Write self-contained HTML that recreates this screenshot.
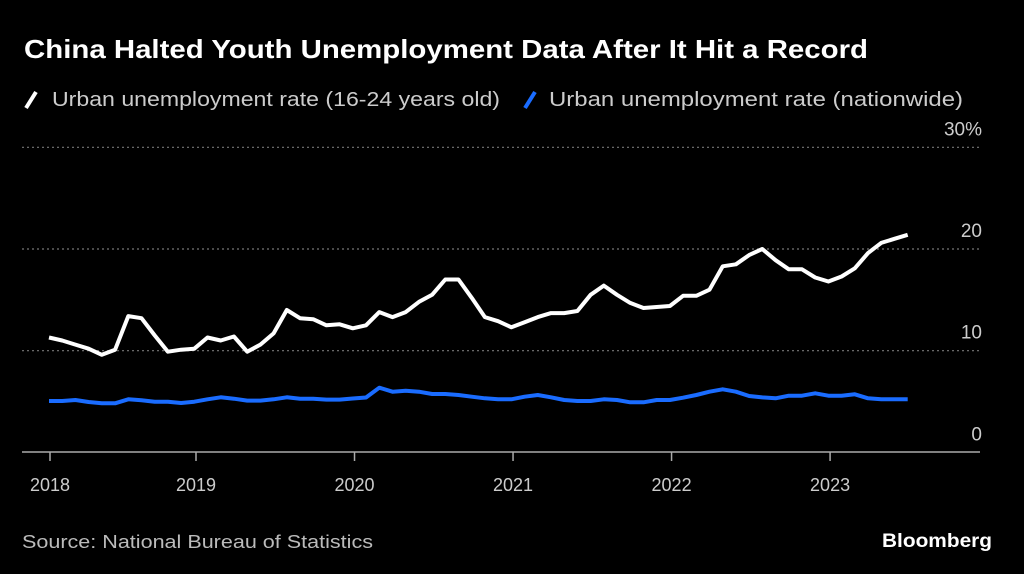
<!DOCTYPE html>
<html><head><meta charset="utf-8"><style>
html,body{margin:0;padding:0;background:#000;width:1024px;height:574px;overflow:hidden}
svg{display:block;font-family:"Liberation Sans",sans-serif}
</style></head><body>
<svg id="chart" width="1024" height="574" viewBox="0 0 1024 574">
<text x="24" y="58" fill="#fff" font-size="26" font-weight="bold" textLength="844" lengthAdjust="spacingAndGlyphs">China Halted Youth Unemployment Data After It Hit a Record</text>
<g>
<line x1="26" y1="108" x2="36" y2="92" stroke="#fff" stroke-width="4"/>
<text x="52" y="106" fill="#ccc" font-size="20" textLength="448" lengthAdjust="spacingAndGlyphs">Urban unemployment rate (16-24 years old)</text>
<line x1="268" y1="108" x2="278" y2="92" stroke="#1a6cff" stroke-width="4" transform="translate(0,0)" id="sw2"/>
<text x="549" y="106" fill="#ccc" font-size="20" textLength="414" lengthAdjust="spacingAndGlyphs">Urban unemployment rate (nationwide)</text>
</g>
<g id="grid"></g>
<g id="series"></g>
<text x="22" y="548" fill="#bbb" font-size="18" textLength="351" lengthAdjust="spacingAndGlyphs">Source: National Bureau of Statistics</text>
<text x="992" y="547" fill="#fff" font-size="19" font-weight="bold" text-anchor="end" textLength="110" lengthAdjust="spacingAndGlyphs">Bloomberg</text>
</svg>
<script>
const yTicks = [0, 10, 20, 30];
const yTickLabels = ["0", "10", "20", "30%"];
const xTickYears = [2018, 2019, 2020, 2021, 2022, 2023];
const youth = [11.3,11.0,10.6,10.2,9.6,10.1,13.4,13.2,11.5,9.9,10.1,10.2,11.3,11.0,11.4,9.9,10.6,11.7,14.0,13.2,13.1,12.5,12.6,
12.2,12.5,13.8,13.3,13.8,14.8,15.5,17.0,17.0,15.2,13.3,12.9,12.3,12.8,13.3,13.7,13.7,13.9,15.5,16.4,15.5,14.7,14.2,14.3,
14.4,15.4,15.4,16.0,18.3,18.5,19.4,20.0,18.9,18.0,18.0,17.2,16.8,17.3,18.1,19.6,20.6,21.0,21.4];
const nationwide = [5.05,5.05,5.15,4.96,4.83,4.83,5.22,5.12,4.99,4.99,4.86,4.99,5.22,5.42,5.28,5.09,5.09,5.22,5.42,5.28,5.28,5.19,5.19,
5.3,5.4,6.36,5.97,6.07,5.97,5.74,5.74,5.64,5.48,5.32,5.22,5.22,5.48,5.64,5.42,5.15,5.05,5.05,5.22,5.15,4.93,4.93,5.15,
5.15,5.38,5.64,5.97,6.2,5.97,5.55,5.41,5.32,5.58,5.58,5.81,5.58,5.58,5.71,5.32,5.22,5.22,5.22];
const NS='http://www.w3.org/2000/svg';
const x0=49, step=13.21, y0=452.4, pxPer=10.17;
const xScale=i=>x0+step*i;
const yScale=v=>y0-v*pxPer;
const yearX=y=>196+(y-2019)*12*step - (y===2018?-(0):0);
const grid=document.getElementById('grid');
yTicks.forEach((t,k)=>{
  if(t>0){
    const l=document.createElementNS(NS,'line');
    l.setAttribute('x1',22);l.setAttribute('x2',982);
    l.setAttribute('y1',yScale(t));l.setAttribute('y2',yScale(t));
    l.setAttribute('stroke','#777');l.setAttribute('stroke-dasharray','2 3');l.setAttribute('stroke-width','1.2');
    
    
    grid.appendChild(l);
  }
  const tx=document.createElementNS(NS,'text');
  tx.setAttribute('x',982);tx.setAttribute('y',yScale(t)-12);
  tx.setAttribute('text-anchor','end');tx.setAttribute('fill','#ccc');tx.setAttribute('font-size','19');
  tx.textContent=yTickLabels[k];
  
  
  grid.appendChild(tx);
});
const ax=document.createElementNS(NS,'line');
ax.setAttribute('x1',22);ax.setAttribute('x2',980);ax.setAttribute('y1',452);ax.setAttribute('y2',452);
ax.setAttribute('stroke','#aaa');ax.setAttribute('stroke-width','1.5');


grid.appendChild(ax);
xTickYears.forEach(y=>{
  const x= y===2018 ? 50 : 196+(y-2019)*12*step;
  const t=document.createElementNS(NS,'line');
  t.setAttribute('x1',x);t.setAttribute('x2',x);t.setAttribute('y1',452);t.setAttribute('y2',461);
  t.setAttribute('stroke','#aaa');t.setAttribute('stroke-width','1.5');
  
  
  grid.appendChild(t);
  const tx=document.createElementNS(NS,'text');
  tx.setAttribute('x',x);tx.setAttribute('y',491);tx.setAttribute('text-anchor','middle');
  tx.setAttribute('fill','#ccc');tx.setAttribute('font-size','18');
  tx.textContent=y;
  
  
  grid.appendChild(tx);
});
const series=document.getElementById('series');
function draw(data,color,name){
  const p=document.createElementNS(NS,'polyline');
  p.setAttribute('points',data.map((v,i)=>xScale(i).toFixed(1)+','+yScale(v).toFixed(1)).join(' '));
  p.setAttribute('fill','none');p.setAttribute('stroke',color);p.setAttribute('stroke-width','4');
  p.setAttribute('stroke-linejoin','round');
  
  
  series.appendChild(p);
}
draw(nationwide,'#1a6cff','line-nationwide');
draw(youth,'#ffffff','line-youth');
document.getElementById('sw2').setAttribute('transform','translate(257,0)');
</script>
</body></html>
